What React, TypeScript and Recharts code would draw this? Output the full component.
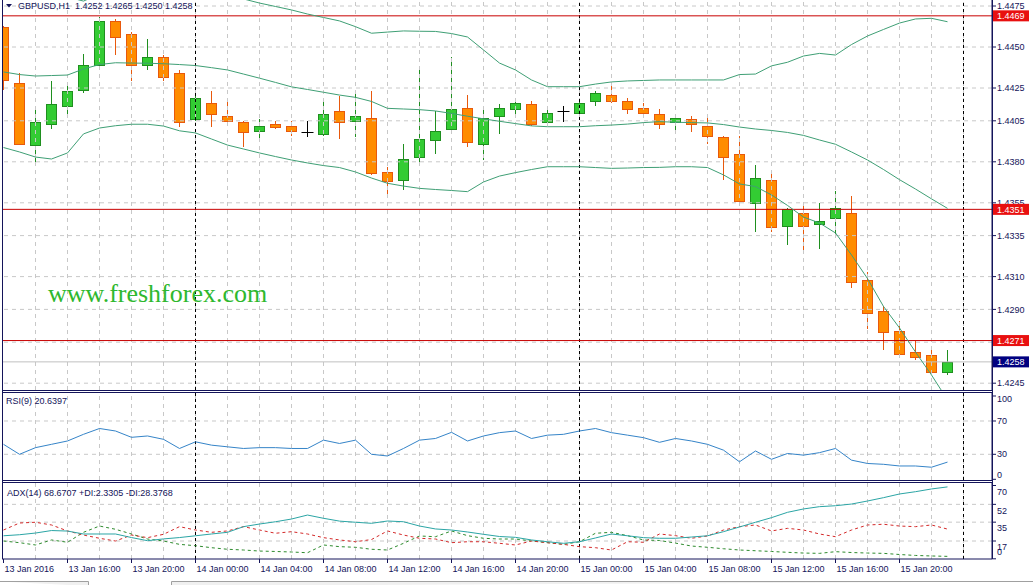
import React from "react";
import { Bar, ComposedChart, Line, ReferenceLine, XAxis, YAxis } from "recharts";

const NAVY = "#14145a";
const FONT = "'Liberation Sans', Arial, sans-serif";
const BB = "#3f9f75";
const GRID = "#c8c8c8";

// one label every 4 bars, first bar = 13 Jan 12:00 (H1)
const timeLabels = ["13 Jan 2016", "13 Jan 16:00", "13 Jan 20:00", "14 Jan 00:00", "14 Jan 04:00", "14 Jan 08:00",
  "14 Jan 12:00", "14 Jan 16:00", "14 Jan 20:00", "15 Jan 00:00", "15 Jan 04:00", "15 Jan 08:00", "15 Jan 12:00",
  "15 Jan 16:00", "15 Jan 20:00"];

const opens = [1.4462, 1.4428, 1.4390, 1.4403, 1.4414, 1.4424, 1.4439, 1.4466, 1.4458, 1.4439,
  1.4444, 1.4434, 1.4406, 1.4416, 1.4408, 1.4404, 1.4399, 1.4403, 1.4402, 1.4398,
  1.4397, 1.4411, 1.4405, 1.4407, 1.4374, 1.4369, 1.4383, 1.4393, 1.4400, 1.4413,
  1.4391, 1.4408, 1.4412, 1.4415, 1.4404, 1.4411, 1.4410, 1.4417, 1.4421, 1.4417,
  1.4413, 1.4409, 1.4404, 1.4406, 1.4402, 1.4395, 1.4385, 1.4355, 1.4369, 1.4341,
  1.4349, 1.4342, 1.4346, 1.4349, 1.4308, 1.4289, 1.4277, 1.4264, 1.4262, 1.4252];
const highs = [1.4463, 1.4434, 1.4413, 1.4429, 1.4428, 1.4446, 1.4468, 1.4467, 1.4459, 1.4455,
  1.4445, 1.4436, 1.4425, 1.4423, 1.4417, 1.4405, 1.4406, 1.4405, 1.4405, 1.4405,
  1.4417, 1.4420, 1.4422, 1.4423, 1.4377, 1.4391, 1.4436, 1.4411, 1.4444, 1.4421,
  1.4414, 1.4415, 1.4417, 1.4417, 1.4413, 1.4414, 1.4417, 1.4423, 1.4426, 1.4419,
  1.4416, 1.4412, 1.4408, 1.4408, 1.4409, 1.4396, 1.4396, 1.4378, 1.4373, 1.4352,
  1.4355, 1.4355, 1.4362, 1.4359, 1.4313, 1.4292, 1.4283, 1.4271, 1.4267, 1.4265];
const lows = [1.4424, 1.4390, 1.4379, 1.4400, 1.4407, 1.4422, 1.4438, 1.4445, 1.4429, 1.4436,
  1.4429, 1.4401, 1.4405, 1.4401, 1.4403, 1.4389, 1.4393, 1.4400, 1.4396, 1.4395,
  1.4396, 1.4394, 1.4395, 1.4372, 1.4359, 1.4363, 1.4378, 1.4385, 1.4397, 1.4389,
  1.4381, 1.4397, 1.4409, 1.4402, 1.4403, 1.4404, 1.4409, 1.4414, 1.4416, 1.4409,
  1.4408, 1.4400, 1.4399, 1.4398, 1.4391, 1.4369, 1.4353, 1.4337, 1.4337, 1.4329,
  1.4324, 1.4327, 1.4335, 1.4303, 1.4278, 1.4265, 1.4262, 1.4259, 1.4251, 1.4250];
const closes = [1.4430, 1.4391, 1.4404, 1.4415, 1.4423, 1.4439, 1.4466, 1.4456, 1.4439, 1.4444,
  1.4432, 1.4404, 1.4419, 1.4409, 1.4405, 1.4398, 1.4402, 1.4401, 1.4399, 1.4398,
  1.4409, 1.4404, 1.4408, 1.4373, 1.4368, 1.4382, 1.4394, 1.4399, 1.4412, 1.4392,
  1.4407, 1.4413, 1.4416, 1.4403, 1.4410, 1.4411, 1.4416, 1.4422, 1.4417, 1.4412,
  1.4410, 1.4403, 1.4407, 1.4403, 1.4396, 1.4383, 1.4356, 1.4370, 1.4340, 1.4351,
  1.4341, 1.4344, 1.4352, 1.4307, 1.4288, 1.4276, 1.4263, 1.4261, 1.4252, 1.4258];

// Bollinger bands (20)
const bbUpper = [1.4486, 1.4485, 1.4487, 1.4486, 1.44805, 1.4478, 1.44823, 1.44835, 1.44835, 1.4484,
  1.4484, 1.44835, 1.44835, 1.44823, 1.44811, 1.44793, 1.44768, 1.44747, 1.44726, 1.44701,
  1.4468, 1.44659, 1.44624, 1.44584, 1.44591, 1.44598, 1.44596, 1.44595, 1.44582, 1.44561,
  1.44482, 1.44402, 1.4436, 1.44299, 1.44258, 1.44258, 1.44258, 1.44274, 1.44287, 1.44293,
  1.44296, 1.44299, 1.44299, 1.44299, 1.44299, 1.44299, 1.44332, 1.44335, 1.44385, 1.44407,
  1.44445, 1.44461, 1.44451, 1.44515, 1.44567, 1.44607, 1.44646, 1.44671, 1.44675, 1.44654];
const bbMiddle = [1.44348, 1.44332, 1.44323, 1.44326, 1.44329, 1.44366, 1.44393, 1.44404, 1.44402, 1.44401,
  1.44398, 1.44393, 1.44387, 1.44374, 1.4436, 1.44335, 1.4431, 1.44284, 1.44257, 1.44241,
  1.44224, 1.44207, 1.44193, 1.44168, 1.44126, 1.44122, 1.44118, 1.4411, 1.44095, 1.44078,
  1.44062, 1.44047, 1.44033, 1.44019, 1.44014, 1.44014, 1.44014, 1.4402, 1.44024, 1.4403,
  1.44039, 1.44045, 1.44041, 1.44039, 1.44037, 1.44027, 1.44012, 1.4400, 1.43991, 1.43979,
  1.43961, 1.43933, 1.43907, 1.4386, 1.43811, 1.43753, 1.43691, 1.43634, 1.43574, 1.43516];
const bbLower = [1.43887, 1.4386, 1.43829, 1.43817, 1.43854, 1.4397, 1.44006, 1.4402, 1.44029, 1.44029,
  1.44018, 1.43989, 1.43976, 1.43939, 1.43902, 1.43878, 1.43854, 1.43832, 1.43811, 1.43793,
  1.43777, 1.43765, 1.43738, 1.43701, 1.43669, 1.43652, 1.43638, 1.43631, 1.43625, 1.43618,
  1.43677, 1.43713, 1.43734, 1.43753, 1.4377, 1.4377, 1.4377, 1.43765, 1.4376, 1.43762,
  1.43765, 1.43766, 1.4377, 1.4377, 1.43765, 1.4372, 1.43665, 1.43649, 1.43598, 1.43534,
  1.43463, 1.43427, 1.43366, 1.43232, 1.43088, 1.42918, 1.42787, 1.4264, 1.425, 1.42348];

const rsi = [42, 30, 38, 42, 46, 54, 61, 58, 50.4, 52, 48, 37, 45, 41, 39, 37, 38, 38, 37, 37,
  47, 43, 47, 30, 28, 37, 47, 49, 56.4, 46, 52, 56, 58, 49, 53, 54, 58, 61, 56, 53,
  50, 44.4, 49, 46, 42, 35, 21, 34, 24, 31, 29, 32, 37, 23, 19, 18, 16, 16, 14.5, 20.64];
const adx = [22, 23, 24.6, 27, 26.5, 23.7, 23.7, 23.7, 20.3, 17.3, 19, 20.3, 22, 23.7, 25.3, 30.7, 33.2, 35.4, 38, 41.8,
  38.7, 36, 34.9, 33.9, 36.1, 35.4, 31.3, 28.5, 27.5, 25.6, 23.4, 21.3, 20.5, 18, 16.3, 14.8, 16.3, 19.9, 23.7, 22,
  20.2, 19.6, 19.6, 20.8, 22, 25.9, 30.4, 34.9, 39.3, 44.4, 47.6, 49.8, 50.7, 52.3, 55.2, 58.4, 61.9, 64.1, 66.7, 68.67];
const plusDi = [17, 15.4, 13.2, 18, 15.8, 25.3, 31.3, 28.2, 23.7, 18.9, 17, 13.8, 12.5, 10.6, 9.1, 8.4, 7.4, 7, 6.5, 5.8,
  13.2, 11.6, 11, 9.1, 8.4, 14.8, 21.8, 21.1, 26.6, 22.1, 19.6, 18.9, 18.9, 17, 15.4, 13.8, 16.3, 24.4, 25.3, 22.1,
  18, 17.5, 15, 12.2, 11, 9.6, 8.4, 7.7, 7, 6.2, 5.5, 5.2, 6.8, 6, 5.5, 5.2, 4.1, 3.2, 2.7, 2.33];
const minusDi = [27.5, 34.2, 34.9, 32.3, 26.6, 22.7, 19.6, 17, 22.7, 20.2, 23.4, 30.7, 27.5, 25.3, 26.6, 30.7, 27.5, 24.4, 25.9, 23.7,
  20.2, 18, 16.3, 18.4, 26.6, 22.7, 19.6, 18.9, 15.4, 16.3, 16.3, 14.8, 13.2, 17, 15.4, 13.8, 11.6, 10.6, 8.4, 16.3,
  15.8, 23.7, 22.1, 19.6, 21.8, 27.5, 30.7, 32.3, 26.6, 29.1, 27.5, 23.7, 21.1, 27.5, 32.3, 33, 31.3, 30.7, 32.3, 28.38];

const priceTicks = [1.4475, 1.4450, 1.4425, 1.4405, 1.4380, 1.4355, 1.4335, 1.4310, 1.4290, 1.4270, 1.4245];
const levels = [1.4469, 1.4351, 1.4271];
const lastPrice = 1.4258;
const daySeparators = [12, 36, 60];

const data = opens.map((o, i) => ({
  i, open: o, high: highs[i], low: lows[i], close: closes[i], range: [lows[i], highs[i]],
  up: bbUpper[i], mid: bbMiddle[i], dn: bbLower[i], rsi: rsi[i], adx: adx[i], pdi: plusDi[i], mdi: minusDi[i],
}));

const X_DOMAIN: [number, number] = [-0.09375, 61.78125];
const gridKs = Array.from({ length: 30 }, (_, j) => 2 + j * 2);
const timeTicks = timeLabels.map((_, j) => j * 4);
// price-axis ticks: grid levels first, then the tags so they paint on top
const axisTicks = [...priceTicks, lastPrice, ...levels];

function Candle(p: any) {
  const { x, y, width, height, payload } = p;
  if (x == null || !payload) return null;
  const cx = Math.round(x + width / 2 - 0.5) + 0.5;
  const yHi = Math.min(y, y + height), yLo = Math.max(y, y + height);
  const k = (yLo - yHi) / (payload.high - payload.low);
  const py = (v: number) => yHi + (payload.high - v) * k;
  const yo = py(payload.open), yc = py(payload.close);
  const wTop = Math.round(yHi), wBot = Math.round(yLo);
  if (Math.abs(payload.open - payload.close) < 0.00005) {
    const yy = Math.round(yo) + 0.5;
    return (
      <g>
        <line x1={cx} x2={cx} y1={wTop} y2={wBot} stroke="#000" />
        <line x1={cx - 6} x2={cx + 6} y1={yy} y2={yy} stroke="#000" />
      </g>
    );
  }
  const bull = payload.close > payload.open;
  const stroke = bull ? "#1f8f1f" : "#e8590c";
  const fill = bull ? "#33cc33" : "#ff8c00";
  const t = Math.round(Math.min(yo, yc)) + 0.5, b = Math.round(Math.max(yo, yc)) + 0.5;
  return (
    <g>
      <line x1={cx} x2={cx} y1={wTop} y2={wBot} stroke={stroke} />
      <rect x={cx - 5} y={t} width={10} height={Math.max(b - t, 1)} fill={fill} stroke={stroke} />
    </g>
  );
}

const axisText = (x: number, y: number, s: string, fill = NAVY) => (
  <text x={x} y={y} dy="0.35em" fill={fill} fontSize={9} fontFamily={FONT}>{s}</text>
);

const PriceTick = (p: any) => {
  const v = Number(p.payload.value);
  const s = v.toFixed(4);
  if (p.index < priceTicks.length) return axisText(p.x, p.y, s);
  const bg = v === lastPrice ? "#000080" : "#e81010";
  return (
    <g>
      <rect x={p.x - 5} y={p.y - 5.5} width={37} height={11} fill={bg} />
      {axisText(p.x, p.y, s, "#fff")}
    </g>
  );
};
const RsiTick = (p: any) => axisText(p.x, Math.min(Math.max(p.y, 7), 83), String(p.payload.value));
const AdxTick = (p: any) => axisText(p.x, p.payload.value === 0 ? Math.min(p.y, 69) : p.y + 6, String(p.payload.value));
const TimeTick = (p: any) => (
  <g>
    <line x1={p.x} x2={p.x} y1={p.y} y2={p.y + 4} stroke={NAVY} />
    <text x={p.x + 1} y={p.y + 10} dy="0.35em" fill={NAVY} fontSize={9} fontFamily={FONT}>
      {timeLabels[Math.round(p.payload.value / 4)]}
    </text>
  </g>
);

const vGrid = () => gridKs.map((k) => (
  <ReferenceLine key={"g" + k} x={k} stroke={GRID} strokeDasharray="4 4" />
));
const separators = () => daySeparators.map((k) => (
  <ReferenceLine key={"d" + k} x={k} stroke="#000" strokeDasharray="3 3" />
));

const rightAxis = {
  orientation: "right" as const, width: 41, tickSize: 4, tickMargin: 1, interval: 0 as const,
  axisLine: { stroke: NAVY }, tickLine: { stroke: NAVY }, allowDataOverflow: true,
};

export default function App() {
  return (
    <div style={{ position: "relative", width: 1033, height: 585, background: "#fff", overflow: "hidden", fontFamily: FONT }}>
      <style>{"body{margin:0;background:#fff}"}</style>

      <div style={{ position: "absolute", left: 0, top: 0 }}>
        <ComposedChart width={1033} height={390} data={data} margin={{ top: 0, right: 0, bottom: 0, left: 2 }}>
          <XAxis type="number" dataKey="i" domain={X_DOMAIN} hide allowDataOverflow />
          <YAxis {...rightAxis} type="number" domain={[1.424085, 1.447866]} ticks={axisTicks} tick={PriceTick} />
          {priceTicks.map((v) => <ReferenceLine key={"h" + v} y={v} stroke={GRID} strokeDasharray="4 4" />)}
          {vGrid()}
          {separators()}
          <ReferenceLine y={lastPrice} stroke="#c0c0c0" />
          {levels.map((v) => <ReferenceLine key={"l" + v} y={v} stroke="#c80000" />)}
          <Line dataKey="up" stroke={BB} dot={false} isAnimationActive={false} />
          <Line dataKey="mid" stroke={BB} dot={false} isAnimationActive={false} />
          <Line dataKey="dn" stroke={BB} dot={false} isAnimationActive={false} />
          <Bar dataKey="range" barSize={10} shape={Candle} isAnimationActive={false} />
        </ComposedChart>
      </div>

      <div style={{ position: "absolute", left: 0, top: 392 }}>
        <ComposedChart width={1033} height={88} data={data} margin={{ top: 0, right: 0, bottom: 0, left: 2 }}>
          <XAxis type="number" dataKey="i" domain={X_DOMAIN} hide allowDataOverflow />
          <YAxis {...rightAxis} type="number" domain={[-0.84, 104.8]} ticks={[100, 70, 30, 0]} tick={RsiTick} />
          {[70, 30].map((v) => <ReferenceLine key={"r" + v} y={v} stroke={GRID} strokeDasharray="4 4" />)}
          {vGrid()}
          {separators()}
          <Line dataKey="rsi" stroke="#3584c8" dot={false} isAnimationActive={false} />
        </ComposedChart>
      </div>

      <div style={{ position: "absolute", left: 0, top: 483 }}>
        <ComposedChart width={1033} height={98} data={data} margin={{ top: 0, right: 0, bottom: 0, left: 2 }}>
          <XAxis type="number" dataKey="i" domain={X_DOMAIN} allowDataOverflow ticks={timeTicks} interval={0}
            height={22} tickSize={0} tickMargin={0} tick={TimeTick} axisLine={{ stroke: NAVY }} />
          <YAxis {...rightAxis} type="number" domain={[-0.19, 72.4]} ticks={[70, 52, 35, 17, 0]} tick={AdxTick} />
          {[52, 35, 17].map((v) => <ReferenceLine key={"a" + v} y={v} stroke={GRID} strokeDasharray="4 4" />)}
          {vGrid()}
          {separators()}
          <Line dataKey="pdi" stroke="#2e8b2e" strokeDasharray="3 3" dot={false} isAnimationActive={false} />
          <Line dataKey="mdi" stroke="#d42a2a" strokeDasharray="3 3" dot={false} isAnimationActive={false} />
          <Line dataKey="adx" stroke="#2ba5a5" dot={false} isAnimationActive={false} />
        </ComposedChart>
      </div>

      <svg width={1033} height={585} style={{ position: "absolute", left: 0, top: 0, pointerEvents: "none" }}>
        <g stroke={NAVY} fill="none">
          <line x1={2.5} x2={2.5} y1={0} y2={559} />
          <line x1={992.5} x2={992.5} y1={0} y2={559} />
          <line x1={2} x2={993} y1={390.5} y2={390.5} />
          <line x1={2} x2={993} y1={392.5} y2={392.5} />
          <line x1={2} x2={993} y1={480.5} y2={480.5} />
          <line x1={2} x2={993} y1={482.5} y2={482.5} />
        </g>
        <polygon points="6,4 12,4 9,7.5" fill={NAVY} />
        <text x={18} y={6} dy="0.35em" fill={NAVY} fontSize={9} fontFamily={FONT} style={{ whiteSpace: "pre" }}>
          {"GBPUSD,H1  1.4252 1.4265 1.4250 1.4258"}
        </text>
        <text x={6} y={401} dy="0.35em" fill={NAVY} fontSize={9} fontFamily={FONT}>RSI(9) 20.6397</text>
        <text x={7} y={492.5} dy="0.35em" fill={NAVY} fontSize={9} fontFamily={FONT}>
          ADX(14) 68.6707 +DI:2.3305 -DI:28.3768
        </text>
        <text x={48} y={302} fill="#2eb82e" fontSize={26} fontFamily="'Liberation Serif', serif">www.freshforex.com</text>
        <g stroke="#a0a0a0" fill="#f0f0f0">
          <path d="M0,581.5 H88.5 V586" />
          <path d="M171.5,586 V581.5 H1034" />
        </g>
      </svg>
    </div>
  );
}
